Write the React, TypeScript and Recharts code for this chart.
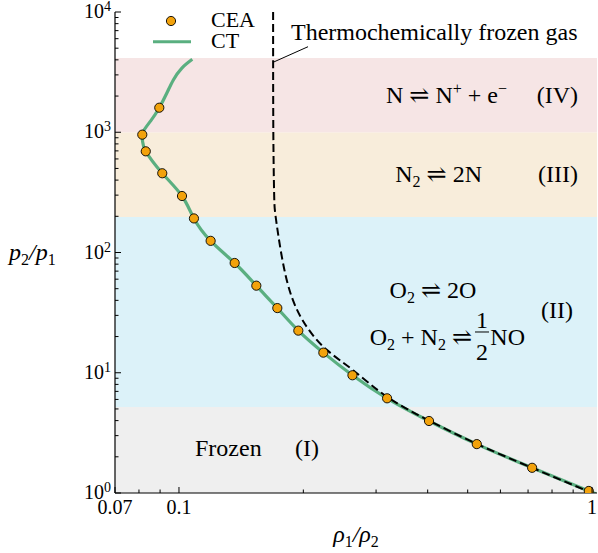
import React from "react";
import {
  ComposedChart,
  Line,
  Scatter,
  XAxis,
  YAxis,
  ReferenceArea,
  ReferenceLine,
  ReferenceDot,
  Legend,
} from "recharts";

// CEA equilibrium results (rho1/rho2, p2/p1)
const ceaRho = [0.0896, 0.0815, 0.0831, 0.0911, 0.1017, 0.1087, 0.1193, 0.1364, 0.1539, 0.173, 0.1945, 0.2236, 0.263, 0.319, 0.403, 0.526, 0.716, 0.982];
const ceaP = [1600, 955, 694, 456, 295, 192, 125, 81.8, 53, 34.5, 22.4, 14.7, 9.53, 6.13, 3.97, 2.55, 1.62, 1.04];

// CT curve
const ctRho = [0.1077, 0.1015, 0.0969, 0.0934, 0.0896, 0.0855, 0.0818, 0.0816, 0.0831, 0.0911, 0.1017, 0.1087, 0.1193, 0.1364, 0.1539, 0.173, 0.1945, 0.2236, 0.263, 0.319, 0.403, 0.526, 0.716, 0.982, 1.0];
const ctP = [4040, 3404, 2723, 2109, 1600, 1250, 1000, 850, 694, 456, 295, 192, 125, 81.8, 53, 34.5, 22.4, 14.7, 9.53, 6.13, 3.97, 2.55, 1.62, 1.04, 1.0];

// thermochemically frozen gas
const frozenRho = [0.169, 0.1692, 0.17, 0.1714, 0.1774, 0.1874, 0.2037, 0.2279, 0.264, 0.319, 0.403, 0.526, 0.716, 1.0];
const frozenP = [10000, 1000, 300, 199, 92.3, 42.9, 24.2, 15.5, 10.5, 6.3, 4.0, 2.56, 1.62, 1.0];

// regime bands (p2/p1 limits)
const bandLimits = [1, 5.2, 197, 1000, 4150];
const bandColors = ["#efefef", "#dcf2f9", "#f8eddb", "#f6e5e5"];

const xTicks = [0.07, 0.08, 0.09, 0.1, 0.2, 0.3, 0.4, 0.5, 0.6, 0.7, 0.8, 0.9, 1];
const xMajor = [0.07, 0.1, 1];
const xMajorLabels = ["0.07", "0.1", "1"];
const yTicks = [
  1, 2, 3, 4, 5, 6, 7, 8, 9,
  10, 20, 30, 40, 50, 60, 70, 80, 90,
  100, 200, 300, 400, 500, 600, 700, 800, 900,
  1000, 2000, 3000, 4000, 5000, 6000, 7000, 8000, 9000,
  10000,
];
const yMajor = [1, 10, 100, 1000, 10000];
const yExponents = ["0", "1", "2", "3", "4"];

const X_DOMAIN = [0.07, 1.028];
const Y_DOMAIN = [1, 10000];

const W = 598;
const H = 553;
const M = { top: 12, right: 1, left: 0, bottom: 0 };
const Y_AXIS_W = 115;
const X_AXIS_H = 60;
const PLOT_LEFT = M.left + Y_AXIS_W;
const PLOT_BOTTOM = H - M.bottom - X_AXIS_H;

const FONT = "'Liberation Serif', 'DejaVu Serif', serif";
const GREEN = "#5aaf80";
const ORANGE = "#f2a20c";

const zip = (xs: number[], ys: number[]) => xs.map((x, i) => ({ x, y: ys[i] }));
const ceaData = zip(ceaRho, ceaP);
const ctData = zip(ctRho, ctP);
const frozenData = zip(frozenRho, frozenP);

const XTick = (props: any) => {
  const { x, payload } = props;
  const i = xMajor.indexOf(payload.value);
  const len = i >= 0 ? 6 : 3.5;
  return (
    <g>
      <line x1={x} x2={x} y1={PLOT_BOTTOM} y2={PLOT_BOTTOM - len} stroke="#000" strokeWidth={1} />
      {i >= 0 && (
        <text x={x} y={PLOT_BOTTOM + 21} textAnchor="middle" fontSize={20} fontFamily={FONT} fill="#000">
          {xMajorLabels[i]}
        </text>
      )}
    </g>
  );
};

const YTick = (props: any) => {
  const { y, payload } = props;
  const i = yMajor.indexOf(payload.value);
  const len = i >= 0 ? 6 : 3.5;
  return (
    <g>
      <line x1={PLOT_LEFT} x2={PLOT_LEFT + len} y1={y} y2={y} stroke="#000" strokeWidth={1} />
      {i >= 0 && (
        <text x={PLOT_LEFT - 4} y={y + 6} textAnchor="end" fontSize={20} fontFamily={FONT} fill="#000">
          10
          <tspan dy={-7} fontSize={14}>{yExponents[i]}</tspan>
        </text>
      )}
    </g>
  );
};

const Dot = (props: any) => {
  const { cx, cy } = props;
  return <circle cx={cx} cy={cy} r={4.6} fill={ORANGE} stroke="#000" strokeWidth={0.9} />;
};

const txt = { fontFamily: FONT, fontSize: 24, fill: "#000" } as const;
const sub = { dy: 5, fontSize: 16 };

const labelIV = ({ viewBox }: any) => {
  const r = viewBox.x + viewBox.width;
  const cy = viewBox.y + viewBox.height / 2;
  return (
    <g>
      <text x={r - 90} y={cy + 8} textAnchor="end" {...txt}>
        N ⇌ N<tspan dy={-9} fontSize={16}>+</tspan>
        <tspan dy={9}> + e</tspan>
        <tspan dy={-9} fontSize={16}>−</tspan>
      </text>
      <text x={r - 19} y={cy + 8} textAnchor="end" {...txt}>(IV)</text>
    </g>
  );
};

const labelIII = ({ viewBox }: any) => {
  const r = viewBox.x + viewBox.width;
  const cy = viewBox.y + viewBox.height / 2;
  return (
    <g>
      <text x={r - 115} y={cy + 7} textAnchor="end" {...txt}>
        N<tspan {...sub}>2</tspan>
        <tspan dy={-5}> ⇌ 2N</tspan>
      </text>
      <text x={r - 19} y={cy + 7} textAnchor="end" {...txt}>(III)</text>
    </g>
  );
};

const labelII = ({ viewBox }: any) => {
  const r = viewBox.x + viewBox.width;
  const cy = viewBox.y + viewBox.height / 2;
  const end2 = r - 72;
  const fx = end2 - 43;
  const b2 = cy + 33;
  return (
    <g>
      <text x={r - 164} y={cy - 14} textAnchor="middle" {...txt}>
        O<tspan {...sub}>2</tspan>
        <tspan dy={-5}> ⇌ 2O</tspan>
      </text>
      <text x={r - 24} y={cy + 6} textAnchor="end" {...txt}>(II)</text>
      <text x={fx - 10} y={b2} textAnchor="end" {...txt}>
        O<tspan {...sub}>2</tspan>
        <tspan dy={-5}> + N</tspan>
        <tspan {...sub}>2</tspan>
        <tspan dy={-5}> ⇌</tspan>
      </text>
      <text x={fx} y={b2 - 17} textAnchor="middle" {...txt}>1</text>
      <line x1={fx - 7} x2={fx + 7} y1={b2 - 13} y2={b2 - 13} stroke="#000" strokeWidth={1} />
      <text x={fx} y={b2 + 15} textAnchor="middle" {...txt}>2</text>
      <text x={end2} y={b2} textAnchor="end" {...txt}>NO</text>
    </g>
  );
};

const labelI = ({ viewBox }: any) => {
  const cy = viewBox.y + viewBox.height / 2;
  return (
    <g>
      <text x={viewBox.x + 80} y={cy + 6} {...txt}>Frozen</text>
      <text x={viewBox.x + 180} y={cy + 6} {...txt}>(I)</text>
    </g>
  );
};

const bandLabels = [labelI, labelII, labelIII, labelIV];

const frozenNote = ({ viewBox }: any) => (
  <text x={viewBox.x} y={viewBox.y} {...txt}>Thermochemically frozen gas</text>
);

const yLabel = ({ viewBox }: any) => (
  <text x={viewBox.x + 9} y={viewBox.y + viewBox.height / 2 + 7} {...txt} fontStyle="italic">
    p<tspan {...sub} fontStyle="normal">2</tspan>
    <tspan dy={-5}>/p</tspan>
    <tspan {...sub} fontStyle="normal">1</tspan>
  </text>
);

const xLabel = ({ viewBox }: any) => (
  <text x={viewBox.x + viewBox.width / 2} y={viewBox.y + 49} textAnchor="middle" {...txt} fontStyle="italic">
    ρ<tspan {...sub} fontStyle="normal">1</tspan>
    <tspan dy={-5}>/ρ</tspan>
    <tspan {...sub} fontStyle="normal">2</tspan>
  </text>
);

const renderLegend = () => (
  <svg width={130} height={52} style={{ display: "block" }}>
    <circle cx={23} cy={13} r={4.6} fill={ORANGE} stroke="#000" strokeWidth={0.9} />
    <text x={63} y={19} {...txt} fontSize={22}>CEA</text>
    <line x1={5} x2={43} y1={33.7} y2={33.7} stroke={GREEN} strokeWidth={3} />
    <text x={63} y={40} {...txt} fontSize={22}>CT</text>
  </svg>
);

export default function App() {
  return (
    <div style={{ position: "absolute", left: 0, top: 0, background: "#fff" }}>
      <ComposedChart width={W} height={H} margin={M} style={{ fontFamily: FONT }}>
        {bandColors.map((c, i) => (
          <ReferenceArea
            key={c}
            x1={X_DOMAIN[0]}
            x2={X_DOMAIN[1]}
            y1={bandLimits[i]}
            y2={bandLimits[i + 1]}
            fill={c}
            fillOpacity={1}
            stroke="none"
            label={bandLabels[i]}
          />
        ))}
        <XAxis
          dataKey="x"
          type="number"
          scale="log"
          domain={X_DOMAIN}
          ticks={xTicks}
          interval={0}
          tick={<XTick />}
          tickLine={false}
          axisLine={{ stroke: "#000", strokeWidth: 1.2 }}
          height={X_AXIS_H}
          allowDataOverflow
          label={xLabel}
        />
        <YAxis
          dataKey="y"
          type="number"
          scale="log"
          domain={Y_DOMAIN}
          ticks={yTicks}
          interval={0}
          tick={<YTick />}
          tickLine={false}
          axisLine={{ stroke: "#000", strokeWidth: 1.2 }}
          width={Y_AXIS_W}
          allowDataOverflow
          label={yLabel}
        />
        <ReferenceLine
          segment={[{ x: 0.169, y: 3818 }, { x: 0.2053, y: 5145 }]}
          stroke="#000"
          strokeWidth={1}
        />
        <ReferenceDot x={0.1867} y={5851} r={0} fill="none" stroke="none" label={frozenNote} />
        <Line
          data={ctData}
          dataKey="y"
          type="natural"
          stroke={GREEN}
          strokeWidth={3.2}
          dot={false}
          isAnimationActive={false}
          legendType="none"
        />
        <Line
          data={frozenData}
          dataKey="y"
          type="natural"
          stroke="#000"
          strokeWidth={2}
          strokeDasharray="8 4"
          dot={false}
          isAnimationActive={false}
          legendType="none"
        />
        <Scatter data={ceaData} dataKey="y" shape={<Dot />} isAnimationActive={false} />
        <Legend
          layout="vertical"
          align="center"
          verticalAlign="middle"
          content={renderLegend}
          wrapperStyle={{ left: 148, top: 8, width: 130, height: 52 }}
        />
      </ComposedChart>
    </div>
  );
}
